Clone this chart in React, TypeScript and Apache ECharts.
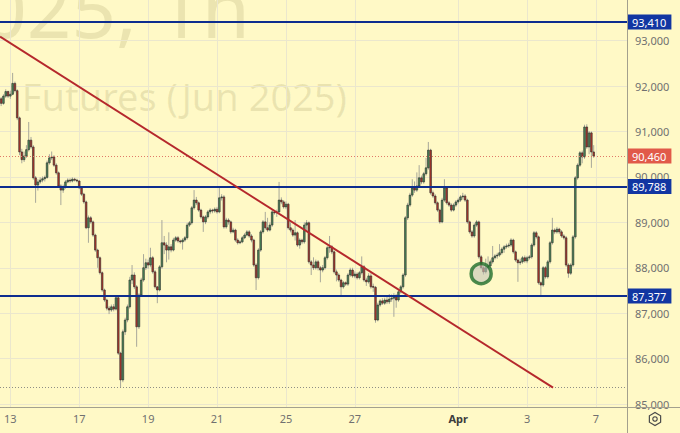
import React, { useEffect, useRef } from 'react';
import * as echarts from 'echarts';

// Hourly candles [open, close, low, high], one array per trading session
const mar12 = [
  [91720, 91620, 91560, 91760], [91620, 91780, 91590, 91820], [91780, 91880, 91740, 91930], [91880, 91780, 91740, 91900],
];
const mar13 = [
  [91780, 91820, 91720, 91900], [91820, 92060, 91800, 92290], [92060, 91900, 91860, 92100], [91900, 91300, 91250, 91930],
  [91300, 90550, 90480, 91330], [90550, 90380, 90300, 90620], [90380, 90460, 90330, 90560], [90460, 90600, 90420, 90700],
  [90600, 90810, 90560, 91210], [90810, 90660, 90620, 90880], [90660, 89980, 89940, 90700], [89980, 89820, 89430, 90020],
  [89820, 89890, 89700, 89950], [89890, 89930, 89850, 89990], [89930, 89960, 89880, 90010],
];
const mar14 = [
  [89960, 89990, 89900, 90030], [89990, 90310, 89960, 90360], [90310, 90420, 90270, 90500], [90420, 90440, 90370, 90560],
  [90440, 90260, 90220, 90480], [90260, 90090, 90050, 90300], [90090, 89800, 89760, 90120], [89800, 89710, 89380, 89840],
  [89710, 89780, 89650, 89830], [89780, 89890, 89740, 89930], [89890, 89930, 89860, 89970], [89930, 89910, 89870, 89970],
  [89910, 89950, 89880, 89990], [89950, 89930, 89900, 89980], [89930, 89910, 89880, 89960],
];
const mar17 = [
  [89910, 89760, 89730, 89930], [89760, 89620, 89580, 89790], [89620, 89450, 89410, 89650], [89450, 88880, 88850, 89480],
  [88880, 89100, 88550, 89150], [89100, 89010, 88970, 89140], [89010, 88720, 88680, 89040], [88720, 88390, 88350, 88750],
  [88390, 88220, 88000, 88420], [88220, 87890, 87850, 88250], [87890, 87510, 87470, 87920], [87510, 87290, 87250, 87540],
  [87290, 87110, 87060, 87320], [87110, 87070, 86980, 87160], [87070, 87140, 87030, 87190],
];
const mar18 = [
  [87140, 87090, 87040, 87200], [87090, 87340, 87060, 87380], [87340, 86120, 86080, 87380], [86120, 85530, 85370, 86150],
  [85530, 86590, 85480, 86640], [86590, 86850, 86520, 86900], [86850, 87140, 86800, 87190], [87140, 87730, 87100, 87800],
  [87730, 87840, 87640, 88060], [87840, 87580, 87530, 87900], [87580, 86700, 86260, 87620], [86700, 87400, 86650, 87440],
  [87400, 87730, 87360, 87780], [87730, 88000, 87690, 88300], [88000, 88110, 87950, 88200],
];
const mar19 = [
  [88110, 88060, 87980, 88180], [88060, 88220, 88010, 88440], [88220, 87910, 87870, 88260], [87910, 87580, 87540, 87950],
  [87580, 87510, 87220, 87600], [87510, 88020, 87480, 88060], [88020, 88550, 87980, 89050], [88550, 88500, 88300, 88700],
  [88500, 88390, 88120, 88560], [88390, 88460, 88180, 88780], [88460, 88390, 88340, 88520], [88390, 88610, 88360, 88660],
  [88610, 88660, 88570, 88700], [88660, 88590, 88550, 88700], [88590, 88570, 88530, 88620],
];
const mar20 = [
  [88570, 88610, 88400, 88650], [88610, 88660, 88570, 88700], [88660, 88940, 88620, 88990], [88940, 88990, 88900, 89030],
  [88990, 89320, 88950, 89360], [89320, 89490, 89280, 89710], [89490, 89430, 89380, 89560], [89430, 89270, 89230, 89460],
  [89270, 89120, 89080, 89300], [89120, 89010, 88790, 89150], [89010, 89120, 88960, 89160], [89120, 89230, 89080, 89270],
  [89230, 89270, 89180, 89310], [89270, 89250, 89200, 89300], [89250, 89290, 89210, 89330],
];
const mar21 = [
  [89290, 89230, 89190, 89340], [89230, 89540, 89200, 89780], [89540, 89560, 89480, 89620], [89560, 88900, 88860, 89600],
  [88900, 89050, 88860, 89100], [89050, 89010, 88950, 89090], [89010, 88790, 88750, 89040], [88790, 88830, 88760, 88880],
  [88830, 88610, 88570, 88860], [88610, 88550, 88510, 88650], [88550, 88570, 88520, 88610], [88570, 88660, 88540, 88700],
  [88660, 88720, 88630, 88760], [88720, 88790, 88690, 88830], [88790, 88700, 88660, 88830],
];
const mar24 = [
  [88700, 88610, 88560, 88740], [88610, 88060, 88020, 88640], [88060, 87780, 87510, 88100], [87780, 88390, 87740, 88430],
  [88390, 88790, 88350, 88830], [88790, 89010, 88750, 89050], [89010, 88880, 88840, 89230], [88880, 88830, 88790, 89100],
  [88830, 88940, 88800, 89000], [88940, 89230, 88900, 89270], [89230, 89210, 89170, 89270], [89210, 89230, 89120, 89280],
  [89230, 89490, 89190, 89890], [89490, 89450, 89400, 89550], [89450, 89340, 89300, 89490],
];
const mar25 = [
  [89340, 89400, 89290, 89460], [89400, 88880, 88840, 89430], [88880, 88830, 88780, 89000], [88830, 88720, 88680, 88870],
  [88720, 88770, 88600, 89050], [88770, 88500, 88460, 88800], [88500, 88610, 88420, 88650], [88610, 88570, 88520, 88640],
  [88570, 88940, 88530, 89000], [88940, 88990, 88800, 89050], [88990, 88130, 88090, 89020], [88130, 88060, 87840, 88170],
  [88060, 88000, 87950, 88230], [88000, 88130, 87960, 88180], [88130, 88000, 87940, 88170],
];
const mar26 = [
  [88000, 87950, 87680, 88040], [87950, 88000, 87900, 88060], [88000, 88220, 87960, 88260], [88220, 88440, 88180, 88480],
  [88440, 88460, 88330, 88700], [88460, 88350, 88300, 88500], [88350, 87910, 87870, 88380], [87910, 87840, 87700, 87960],
  [87840, 87730, 87690, 87880], [87730, 87580, 87360, 87760], [87580, 87670, 87540, 87710], [87670, 87640, 87600, 87700],
  [87640, 87840, 87600, 87880], [87840, 87950, 87800, 88000], [87950, 87820, 87780, 88000],
];
const mar27 = [
  [87820, 87860, 87770, 87920], [87860, 87780, 87740, 87900], [87780, 87890, 87740, 87930], [87890, 88020, 87850, 88250],
  [88020, 87730, 87690, 88060], [87730, 87690, 87600, 87780], [87690, 87820, 87650, 87880], [87820, 87580, 87540, 87880],
  [87590, 87570, 87470, 87650], [87570, 86850, 86790, 87600], [86850, 87180, 86820, 87230], [87180, 87270, 87140, 87310],
  [87270, 87220, 87180, 87330], [87220, 87290, 87180, 87340], [87290, 87250, 87200, 87400],
];
const mar28 = [
  [87250, 87310, 87200, 87420], [87310, 87330, 87250, 87410], [87330, 87380, 86920, 87440], [87380, 87290, 87120, 87420],
  [87290, 87470, 87250, 87510], [87470, 87580, 87430, 87620], [87580, 87840, 87540, 87880], [87840, 89100, 87800, 89140],
  [89100, 89380, 89050, 89430], [89380, 89600, 89340, 89650], [89600, 89760, 89560, 89950], [89760, 89710, 89650, 89900],
  [89710, 89800, 89670, 90100], [89800, 89980, 89760, 90260], [89980, 89890, 89840, 90030],
];
const mar31 = [
  [89890, 90070, 89850, 90110], [90070, 90200, 90030, 90420], [90200, 90590, 90160, 90770], [90590, 89650, 89610, 90620],
  [89650, 89580, 89540, 89700], [89580, 89430, 89390, 89620], [89430, 89270, 89230, 89460], [89270, 89010, 88970, 89300],
  [89010, 89490, 88980, 89540], [89490, 89760, 89450, 89950], [89760, 89430, 89390, 89790], [89430, 89380, 89340, 89470],
  [89380, 89270, 89230, 89420], [89270, 89380, 89240, 89420], [89380, 89450, 89340, 89490],
];
const apr01 = [
  [89450, 89490, 89410, 89530], [89490, 89560, 89450, 89600], [89560, 89580, 89500, 89650], [89580, 89490, 89450, 89620],
  [89490, 89010, 88970, 89520], [89010, 88790, 88750, 89040], [88790, 88700, 88660, 88830], [88700, 88940, 88660, 88980],
  [88940, 89010, 88900, 89050], [89010, 88240, 88200, 89040], [88240, 88000, 87960, 88280], [88000, 87910, 87850, 88040],
  [87910, 88000, 87870, 88200], [88000, 88040, 87950, 88250], [88040, 88130, 88000, 88180],
];
const apr02 = [
  [88130, 88220, 88090, 88480], [88220, 88260, 88180, 88300], [88260, 88280, 88200, 88330], [88280, 88330, 88240, 88520],
  [88330, 88410, 88290, 88450], [88410, 88460, 88330, 88500], [88460, 88480, 88420, 88530], [88480, 88500, 88440, 88550],
  [88500, 88610, 88460, 88650], [88610, 88350, 88310, 88640], [88350, 88170, 88130, 88380], [88170, 88110, 87690, 88200],
  [88110, 88130, 88060, 88200], [88130, 88220, 88090, 88260], [88220, 88150, 88110, 88270],
];
const apr03 = [
  [88150, 88220, 88100, 88260], [88220, 88240, 88180, 88280], [88240, 88500, 88200, 88540], [88500, 88770, 88460, 88810],
  [88770, 88680, 88640, 88810], [88680, 87670, 87630, 88710], [87670, 87620, 87360, 87700], [87620, 88000, 87580, 88040],
  [88000, 87800, 87760, 88040], [87800, 88130, 87760, 88170], [88130, 88550, 88090, 88590], [88550, 88830, 88510, 89100],
  [88830, 88790, 88740, 88870], [88790, 88850, 88750, 88900], [88850, 88790, 88740, 88880],
];
const apr04 = [
  [88790, 88700, 88660, 88830], [88700, 88660, 88620, 88740], [88660, 88060, 88020, 88700], [88060, 87880, 87780, 88100],
  [87880, 88060, 87840, 88100], [88060, 88680, 88020, 88720], [88680, 89980, 88640, 90020], [89980, 90260, 89940, 90300],
  [90260, 90530, 90220, 90570], [90530, 90440, 90300, 90580], [90440, 91100, 90400, 91150], [91100, 90660, 90620, 91160],
  [90660, 90970, 90500, 91010], [90970, 90550, 90200, 91000], [90550, 90460, 90420, 90700],
];
const apr07: number[][] = [];

const sessions = [mar12, mar13, mar14, mar17, mar18, mar19, mar20, mar21, mar24, mar25, mar26, mar27, mar28, mar31, apr01, apr02, apr03, apr04, apr07];
const sessionLabels = ['', '13', '', '17', '', '19', '', '21', '', '25', '', '27', '', '', 'Apr', '', '3', '', '7'];
const emptySlots = 14;

const levels = [93410, 89788, 87377];
const yTicks = [85000, 86000, 87000, 88000, 89000, 90000, 91000, 92000, 93000];
const yRange = [84934, 93896];
const trendLine = [[-0.5, 93090], [240.3, 85360]];
const markedPoint = [[209, 87870]];
const watermark = ['2025, 1h', 'Futures (Jun 2025)'];

const W = 680, H = 433, GR = 53, GB = 26;
const FONT = '"Noto Sans", "Open Sans", sans-serif';

const fmt = (v: number) => Math.round(v).toLocaleString('en-US');

export default function App() {
  const ref = useRef<HTMLDivElement>(null);
  useEffect(() => {
    if (!ref.current) return;
    const chart = echarts.init(ref.current, undefined, { renderer: 'svg' });

    const candles: number[][] = [];
    const starts: number[] = [];
    let acc = 0;
    sessions.forEach((s) => {
      starts.push(acc);
      s.forEach((c) => { candles.push([acc, c[0], c[1], c[2], c[3]]); acc += 1; });
    });
    const total = acc;
    const tickPos: number[] = [];
    const tickLab: string[] = [];
    sessionLabels.forEach((l, i) => { if (l) { tickPos.push(starts[i]); tickLab.push(l); } });
    const lastClose = candles[candles.length - 1][2];
    const lowest = Math.min(...candles.map((c) => c[3]));

    const renderCandle = (_p: any, api: any) => {
      const i = api.value(0), o = api.value(1), c = api.value(2), l = api.value(3), h = api.value(4);
      const pt = api.coord([i, h]), pb = api.coord([i, l]);
      const po = api.coord([i, o]), pc = api.coord([i, c]);
      const w = api.size([1, 0])[0] * 0.72;
      const up = c >= o;
      return {
        type: 'group',
        children: [
          { type: 'line', shape: { x1: pt[0], y1: pt[1], x2: pb[0], y2: pb[1] }, style: { stroke: '#a8a89a', lineWidth: 1 } },
          {
            type: 'rect',
            shape: { x: po[0] - w / 2, y: Math.min(po[1], pc[1]), width: w, height: Math.max(Math.abs(po[1] - pc[1]), 0.8) },
            style: { fill: up ? '#4b8b5b' : '#b2362b', stroke: '#2a2a2a', lineWidth: 0.6 },
          },
        ],
      };
    };

    const levelLine = (v: number) => ({
      yAxis: v,
      lineStyle: { color: '#0d2d8f', width: 2, type: 'solid' },
      label: {
        show: true, position: 'end', distance: 0, formatter: fmt(v), color: '#ffffff',
        backgroundColor: '#1236a2', padding: [2, 5, 1, 5], fontSize: 11, lineHeight: 12, fontFamily: FONT,
      },
    });

    const gcx = W - 25, gcy = H - 14, gr = 6.5;
    const hex: number[][] = [];
    for (let k = 0; k < 6; k++) {
      const a = Math.PI / 6 + (k * Math.PI) / 3;
      hex.push([gcx + gr * Math.cos(a), gcy + gr * Math.sin(a)]);
    }

    chart.setOption({
      animation: false,
      backgroundColor: '#fff9c6',
      grid: { left: 0, top: 0, right: GR, bottom: GB },
      xAxis: {
        type: 'value',
        min: -0.5,
        max: total + emptySlots - 0.5,
        axisLine: { show: false },
        axisTick: { show: false, customValues: tickPos },
        axisLabel: {
          customValues: tickPos,
          margin: 6,
          color: '#707070',
          fontSize: 11,
          fontFamily: FONT,
          formatter: (v: number) => {
            const t = tickLab[tickPos.indexOf(Math.round(v))] || '';
            return t === 'Apr' ? '{b|Apr}' : t;
          },
          rich: { b: { fontWeight: 'bold', color: '#3c3c3c', fontSize: 11, fontFamily: FONT } },
        },
        splitLine: { show: true, lineStyle: { color: '#ebe7cd', width: 1 } },
      },
      yAxis: {
        type: 'value',
        position: 'right',
        min: yRange[0],
        max: yRange[1],
        axisLine: { show: false },
        axisTick: { show: false, customValues: yTicks },
        axisLabel: { customValues: yTicks, margin: 8, color: '#707070', fontSize: 11, fontFamily: FONT, formatter: (v: number) => fmt(v) },
        splitLine: { show: true, lineStyle: { color: '#ebe7cd', width: 1 } },
      },
      graphic: [
        {
          type: 'text', z: -1, silent: true,
          style: { text: watermark[0], x: 250, y: 8, align: 'right', verticalAlign: 'middle', fontSize: 78, fontFamily: FONT, fill: 'rgba(90,80,20,0.12)' },
        },
        {
          type: 'text', z: -1, silent: true,
          style: { text: watermark[1], x: 347, y: 96, align: 'right', verticalAlign: 'middle', fontSize: 38, fontFamily: FONT, fill: 'rgba(90,80,20,0.12)' },
        },
        { type: 'line', silent: true, z: 10, shape: { x1: W - GR + 0.5, y1: 0, x2: W - GR + 0.5, y2: H }, style: { stroke: '#a3a08e', lineWidth: 1 } },
        { type: 'line', silent: true, z: 10, shape: { x1: 0, y1: H - GB + 0.5, x2: W, y2: H - GB + 0.5 }, style: { stroke: '#a3a08e', lineWidth: 1 } },
        { type: 'polygon', silent: true, z: 10, shape: { points: hex }, style: { fill: 'none', stroke: '#4a4a4a', lineWidth: 1.2 } },
        { type: 'circle', silent: true, z: 10, shape: { cx: gcx, cy: gcy, r: 2.2 }, style: { fill: 'none', stroke: '#4a4a4a', lineWidth: 1.2 } },
      ],
      series: [
        {
          type: 'custom',
          renderItem: renderCandle,
          data: candles,
          encode: { x: 0, y: [1, 2, 3, 4] },
          clip: true,
          silent: true,
          z: 3,
        },
        {
          type: 'line',
          data: trendLine,
          symbol: 'none',
          silent: true,
          lineStyle: { color: '#b5282c', width: 2 },
          z: 5,
          markLine: {
            silent: true,
            symbol: ['none', 'none'],
            animation: false,
            data: [
              ...levels.map(levelLine),
              {
                yAxis: lastClose,
                lineStyle: { color: '#e07a68', width: 1, type: [1, 2] },
                label: {
                  show: true, position: 'end', distance: 0, formatter: fmt(lastClose), color: '#ffffff',
                  backgroundColor: '#e15a49', padding: [2, 5, 1, 5], fontSize: 11, lineHeight: 12, fontFamily: FONT,
                },
              },
              { yAxis: lowest, lineStyle: { color: '#8e8e86', width: 1, type: [1, 2] }, label: { show: false } },
            ],
          },
        },
        {
          type: 'scatter',
          data: markedPoint,
          symbol: 'circle',
          symbolSize: 20,
          silent: true,
          itemStyle: { color: 'rgba(195,195,185,0.75)', borderColor: '#1f6e2a', borderWidth: 3.5 },
          z: 6,
        },
      ],
    });
    return () => chart.dispose();
  }, []);
  return <div ref={ref} style={{ position: 'absolute', left: 0, top: 0, width: W, height: H }} />;
}
